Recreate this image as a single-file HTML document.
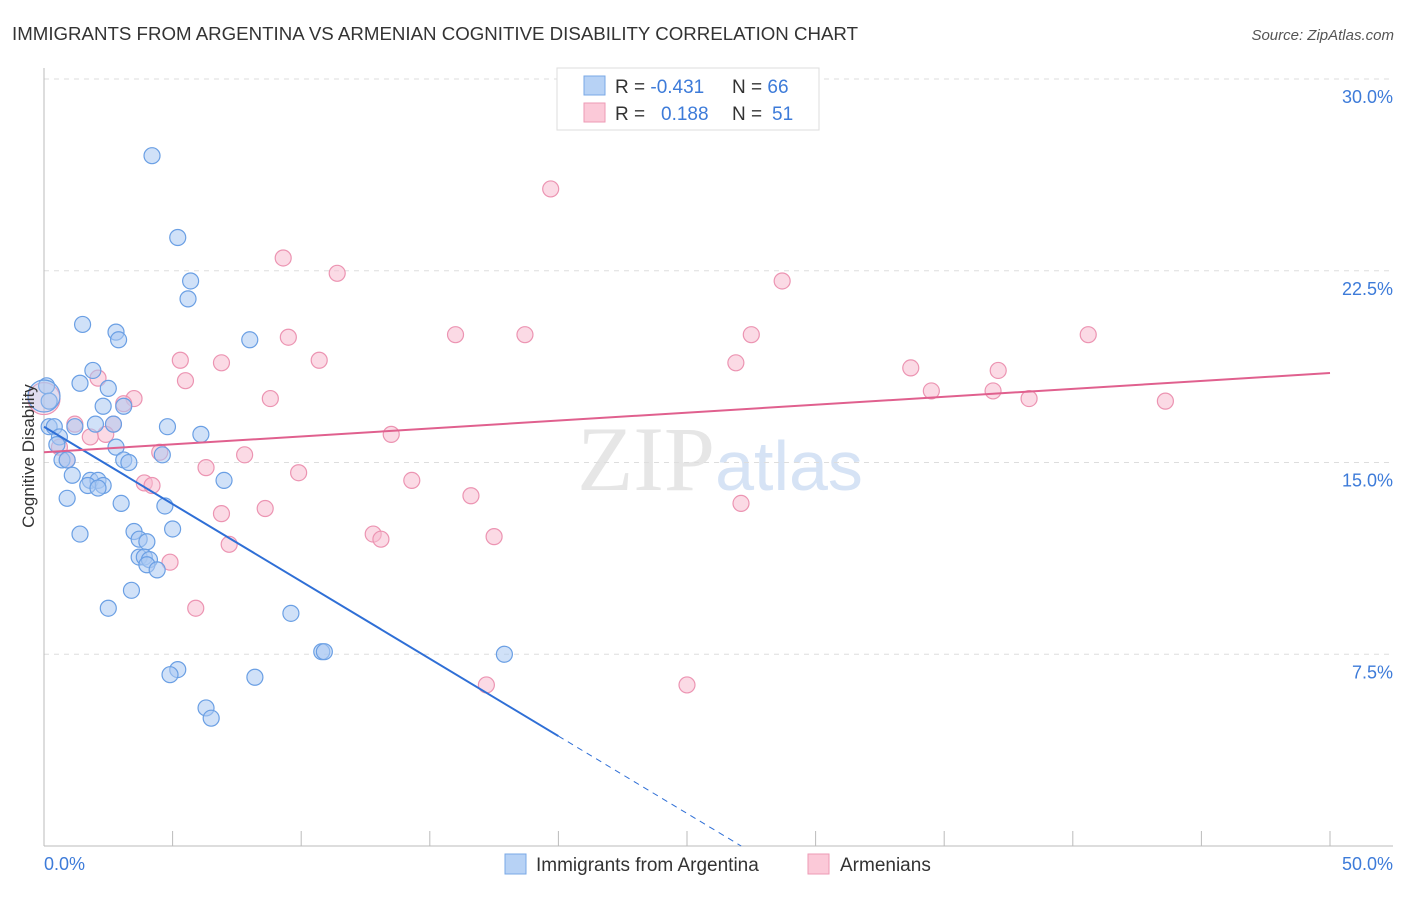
<!DOCTYPE html>
<html><head><meta charset="utf-8"><style>
body{margin:0;background:#fff;font-family:"Liberation Sans",sans-serif;}
</style></head><body>
<svg id="chart" width="1406" height="892" xmlns="http://www.w3.org/2000/svg" font-family="Liberation Sans, sans-serif">
<text x="12" y="40" font-size="18" fill="#333" textLength="846" lengthAdjust="spacingAndGlyphs">IMMIGRANTS FROM ARGENTINA VS ARMENIAN COGNITIVE DISABILITY CORRELATION CHART</text>
<text x="1394" y="40" font-size="15" fill="#555" text-anchor="end" font-style="italic">Source: ZipAtlas.com</text>
<text x="720" y="490" font-size="92" fill="#e6e6e6" text-anchor="middle" font-family="Liberation Serif, serif">ZIP<tspan fill="#d6e3f5" font-family="Liberation Sans, sans-serif" font-size="70">atlas</tspan></text>
<g id="grid"></g><g id="axes"></g><g id="pts"></g><g id="lines"></g>
<text transform="translate(34,456) rotate(-90)" font-size="17" fill="#333" text-anchor="middle">Cognitive Disability</text>
<text x="44" y="870" font-size="18" fill="#3d7bd9">0.0%</text>
<text x="1393" y="870" font-size="18" fill="#3d7bd9" text-anchor="end">50.0%</text>
<g>
<rect x="557" y="68" width="262" height="62" fill="#fff" stroke="#ddd"/>
<rect x="584" y="76" width="21" height="19" fill="#b7d2f5" stroke="#7aa8e6"/>
<rect x="584" y="103" width="21" height="19" fill="#fbc9d8" stroke="#ee9ab5"/>
<text x="615" y="93" font-size="19" fill="#333">R = <tspan fill="#3d7bd9">-0.431</tspan><tspan x="732">N = </tspan><tspan fill="#3d7bd9">66</tspan></text>
<text x="615" y="120" font-size="19" fill="#333">R = <tspan x="661" fill="#3d7bd9">0.188</tspan><tspan x="732">N = </tspan><tspan x="772" fill="#3d7bd9">51</tspan></text>
</g>
<g>
<rect x="505" y="854" width="21" height="20" fill="#b7d2f5" stroke="#7aa8e6"/>
<text x="536" y="871" font-size="19" fill="#333">Immigrants from Argentina</text>
<rect x="808" y="854" width="21" height="20" fill="#fbc9d8" stroke="#ee9ab5"/>
<text x="840" y="871" font-size="19" fill="#333">Armenians</text>
</g>
</svg>
<script>
const yTicks=[7.5,15,22.5,30];
const yTickLabels=["7.5%","15.0%","22.5%","30.0%"];
const xTicks=[0,5,10,15,20,25,30,35,40,45,50];
const blueX=[4.2,5.2,5.7,5.6,1.5,2.8,2.9,8.0,1.9,1.4,2.5,0.1,2.3,3.1,0.2,0.2,0.4,1.2,2.0,2.7,4.8,0.6,6.1,0.5,2.8,4.6,3.1,3.3,0.7,0.9,1.1,1.8,2.1,2.3,1.7,2.1,7.0,0.9,3.0,4.7,3.5,5.0,1.4,3.7,4.0,3.7,3.9,4.1,4.0,4.4,3.4,2.5,9.6,10.8,10.9,17.9,5.2,4.9,8.2,6.3,6.5,0.0];
const blueY=[27.0,23.8,22.1,21.4,20.4,20.1,19.8,19.8,18.6,18.1,17.9,18.0,17.2,17.2,17.4,16.4,16.4,16.4,16.5,16.5,16.4,16.0,16.1,15.7,15.6,15.3,15.1,15.0,15.1,15.1,14.5,14.3,14.3,14.1,14.1,14.0,14.3,13.6,13.4,13.3,12.3,12.4,12.2,12.0,11.9,11.3,11.3,11.2,11.0,10.8,10.0,9.3,9.1,7.6,7.6,7.5,6.9,6.7,6.6,5.4,5.0,17.6];
const pinkX=[19.7,9.3,11.4,28.7,9.5,16.0,18.7,27.5,40.6,5.3,10.7,6.9,26.9,33.7,37.1,2.1,5.5,8.8,3.5,34.5,36.9,38.3,43.6,3.1,1.2,2.7,13.5,2.4,1.8,0.6,4.5,7.8,0.9,6.3,9.9,14.3,3.9,4.2,16.6,27.1,8.6,6.9,12.8,13.1,17.5,7.2,4.9,5.9,17.2,25.0,0.0];
const pinkY=[25.7,23.0,22.4,22.1,19.9,20.0,20.0,20.0,20.0,19.0,19.0,18.9,18.9,18.7,18.6,18.3,18.2,17.5,17.5,17.8,17.8,17.5,17.4,17.3,16.5,16.5,16.1,16.1,16.0,15.6,15.4,15.3,15.1,14.8,14.6,14.3,14.2,14.1,13.7,13.4,13.2,13.0,12.2,12.0,12.1,11.8,11.1,9.3,6.3,6.3,17.5];
const blueFit=[0,16.4,20,4.3];
const pinkFit=[0,15.4,50,18.5];
const NS="http://www.w3.org/2000/svg";
const X=v=>44+v*(1286/50), Y=v=>846-v*(767/30);
function mk(t,a,p){const e=document.createElementNS(NS,t);for(const k in a)e.setAttribute(k,a[k]);p.appendChild(e);return e;}
const grid=document.getElementById('grid'),axes=document.getElementById('axes'),pts=document.getElementById('pts'),lines=document.getElementById('lines');
yTicks.forEach((v,i)=>{
 const l=mk('line',{x1:44,x2:1393,y1:Y(v),y2:Y(v),stroke:'#ddd','stroke-dasharray':'5,5'},grid);
 
 
 const t=mk('text',{x:1393,y:Y(v)+24,'font-size':18,fill:'#3d7bd9','text-anchor':'end'},axes);
 t.textContent=yTickLabels[i];
 
 
});
const ax=mk('line',{x1:44,x2:1393,y1:846,y2:846,stroke:'#bbb'},axes);


const ay=mk('line',{x1:44,x2:44,y1:68,y2:846,stroke:'#bbb'},axes);


xTicks.forEach(v=>{
 const t=mk('line',{x1:X(v),x2:X(v),y1:831,y2:846,stroke:'#bbb'},axes);
 
 
});
function dots(xs,ys,fill,stroke,name){
 xs.forEach((x,i)=>{
  const big=i===xs.length-1;
  const c=mk('circle',{cx:X(x),cy:Y(ys[i]),r:big?16:8,fill:fill,'fill-opacity':big?0.35:0.55,stroke:stroke,'stroke-width':1.2},pts);
  
  
 });
}
dots(pinkX,pinkY,'#f8bcd0','#ec94b2','armenians-point');
dots(blueX,blueY,'#a9c9f2','#6a9fe4','argentina-point');
const bl=mk('line',{x1:X(blueFit[0]),y1:Y(blueFit[1]),x2:X(blueFit[2]),y2:Y(blueFit[3]),stroke:'#2f6fd6','stroke-width':2},lines);


const slope=(blueFit[3]-blueFit[1])/(blueFit[2]-blueFit[0]);
const x0=blueFit[0]-blueFit[1]/slope;
const bd=mk('line',{x1:X(blueFit[2]),y1:Y(blueFit[3]),x2:X(x0),y2:Y(0),stroke:'#2f6fd6','stroke-width':1,'stroke-dasharray':'6,5'},lines);


const pl=mk('line',{x1:X(pinkFit[0]),y1:Y(pinkFit[1]),x2:X(pinkFit[2]),y2:Y(pinkFit[3]),stroke:'#e0608e','stroke-width':2},lines);


</script>
</body></html>
